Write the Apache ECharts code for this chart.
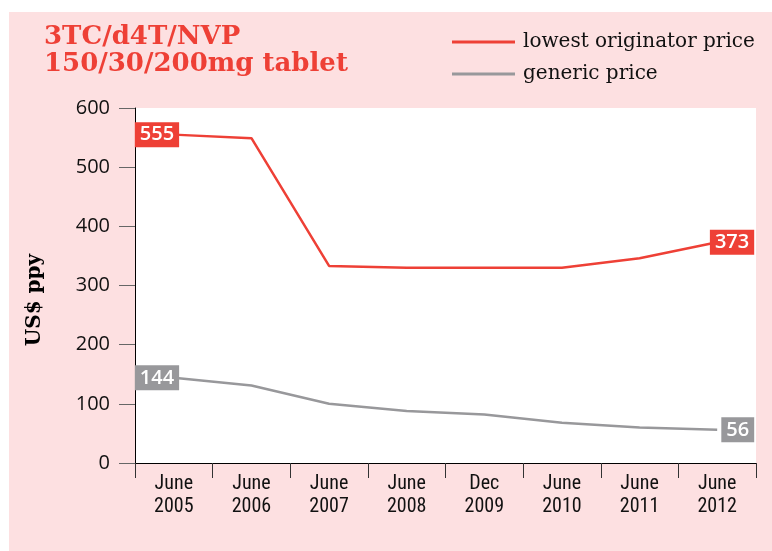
<!DOCTYPE html>
<html><head><meta charset="utf-8">
<script src="https://cdn.jsdelivr.net/npm/echarts@6/dist/echarts.min.js"></script>
<style>html,body{margin:0;padding:0;background:#fff}#c{width:772px;height:551px}</style>
</head><body><div id="c"></div>
<script>
const categories = ['June\n2005','June\n2006','June\n2007','June\n2008','Dec\n2009','June\n2010','June\n2011','June\n2012'];
const originatorPrice = [555, 549, 333, 330, 330, 330, 346, 373];
const genericPrice = [144, 131, 100, 88, 82, 68, 60, 56];
const seriesNames = ['lowest originator price', 'generic price'];
const yTicks = [0, 100, 200, 300, 400, 500, 600];

const RED = '#ee4036', GREY = '#98989b', PINK = '#fde0e1';
const chart = echarts.init(document.getElementById('c'));

function endLabels(vals) {
  return vals.map((v, i) => {
    if (i === 0) return {value: v, label: {show: true, position: 'inside', align: 'left', offset: [-39, 0]}};
    if (i === vals.length - 1) return {value: v, label: {show: true, position: 'inside', align: 'right', offset: [37, 0]}};
    return v;
  });
}
const labelStyle = (bg) => ({
  show: false, color: '#fff', backgroundColor: bg, fontFamily: '"Open Sans", "DejaVu Sans", sans-serif',
  fontSize: 20, fontWeight: 600, padding: [2, 5, 0, 5], lineHeight: 23, verticalAlign: 'middle', formatter: '{c}'
});

chart.setOption({
  backgroundColor: '#fff',
  animation: false,
  graphic: [
    {type: 'rect', shape: {x: 9, y: 12, width: 763, height: 539}, style: {fill: PINK}, z: -10, silent: true},
    {type: 'text', x: 44, y: 24, style: {text: '3TC/d4T/NVP\n150/30/200mg tablet', fill: RED,
      font: 'bold 26px "DejaVu Serif", serif', lineHeight: 27}},
    {type: 'text', x: 35, y: 300, rotation: Math.PI / 2, style: {text: 'US$ ppy', fill: '#000',
      font: 'bold 20px "DejaVu Serif", serif', align: 'center', verticalAlign: 'middle'}}
  ],
  legend: {
    orient: 'vertical', left: 447, top: 26, itemWidth: 63, itemHeight: 3, itemGap: 10, icon: 'rect',
    textStyle: {fontFamily: '"DejaVu Serif", serif', fontSize: 20, color: '#111', padding: [0, 0, 0, 3], lineHeight: 22},
    data: seriesNames
  },
  grid: {left: 135, right: 16, top: 108, bottom: 88, backgroundColor: '#fff', show: true, borderWidth: 0},
  xAxis: {
    type: 'category', data: categories, boundaryGap: true,
    axisLine: {lineStyle: {color: '#000', width: 1}},
    axisTick: {show: true, length: 15, lineStyle: {color: '#333'}, alignWithLabel: false},
    axisLabel: {color: '#111', fontFamily: '"Liberation Sans Narrow", "Roboto Condensed", Roboto, sans-serif',
      fontSize: 20, lineHeight: 23, margin: 9}
  },
  yAxis: {
    type: 'value', min: 0, max: 600, interval: 100,
    axisLine: {show: true, lineStyle: {color: '#000', width: 1}},
    axisTick: {show: true, length: 16, lineStyle: {color: '#666'}},
    splitLine: {show: false},
    axisLabel: {color: '#111', fontFamily: '"Open Sans", "DejaVu Sans", sans-serif', fontSize: 20, margin: 25,
      formatter: v => yTicks.includes(v) ? String(v) : ''}
  },
  series: [
    {name: seriesNames[0], type: 'line', data: endLabels(originatorPrice), color: RED,
      lineStyle: {width: 2.5, color: RED}, symbol: 'circle', symbolSize: 0.01, showSymbol: true,
      label: labelStyle(RED), z: 3},
    {name: seriesNames[1], type: 'line', data: endLabels(genericPrice), color: GREY,
      lineStyle: {width: 2.5, color: GREY}, symbol: 'circle', symbolSize: 0.01, showSymbol: true,
      label: labelStyle(GREY), z: 3}
  ]
});
</script></body></html>
